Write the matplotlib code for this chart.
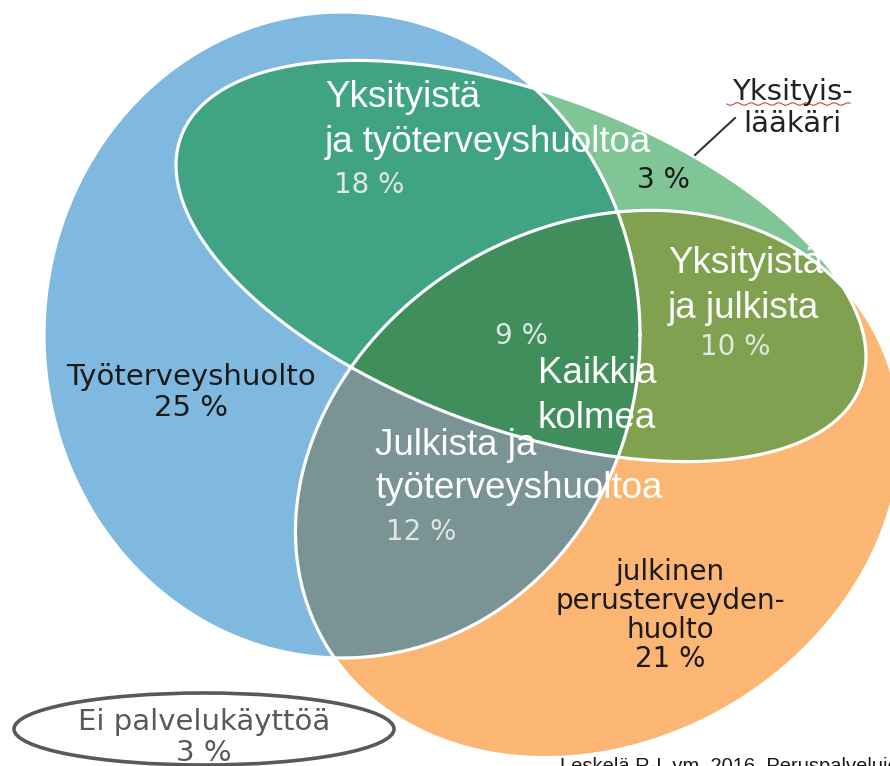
import numpy as np
import matplotlib
matplotlib.use('Agg')
import matplotlib.pyplot as plt
from matplotlib.patches import Ellipse

# palvelukäytön jakauma, % vastaajista
regions = ['Työterveyshuolto', 'Yksityistä ja työterveyshuoltoa', 'Yksityislääkäri',
           'Kaikkia kolmea', 'Yksityistä ja julkista', 'Julkista ja työterveyshuoltoa',
           'julkinen perusterveydenhuolto', 'Ei palvelukäyttöä']
shares = [25, 18, 3, 9, 10, 12, 21, 3]
source = 'Leskelä R-L ym. 2016. Peruspalvelujen käyttö'

C_BLUE = '#7fb9df'
C_ORANGE = '#fbb673'
C_LGREEN = '#80c595'
C_TEAL = '#3fa384'
C_OLIVE = '#7fa150'
C_GREY = '#7a9394'
C_DGREEN = '#3f8e5c'
C_PCT = '#dfe6e3'
C_DARK = '#1a1a1a'

WHITE_FONT = ['Liberation Sans', 'DejaVu Sans']
IMG_FONT = ['DejaVu Sans']


def ellipse_pts(cx, cy, a, b, ang, n=300):
    t = np.linspace(0, 2 * np.pi, n, endpoint=False)
    th = np.radians(ang)
    x = cx + a * np.cos(t) * np.cos(th) - b * np.sin(t) * np.sin(th)
    y = cy + a * np.cos(t) * np.sin(th) + b * np.sin(t) * np.cos(th)
    return np.column_stack([x, y])


def clip_poly(subject, clipper):
    # Sutherland-Hodgman, both convex
    out = [tuple(p) for p in subject]
    for i in range(len(clipper)):
        ax_, ay_ = clipper[i - 1]
        bx_, by_ = clipper[i]
        ex, ey = bx_ - ax_, by_ - ay_
        inp = out
        out = []
        if not inp:
            break

        def side(p):
            return ex * (p[1] - ay_) - ey * (p[0] - ax_)

        def inter(p, q):
            sp, sq = side(p), side(q)
            t = sp / (sp - sq)
            return (p[0] + t * (q[0] - p[0]), p[1] + t * (q[1] - p[1]))

        s = inp[-1]
        for e in inp:
            if side(e) >= 0:
                if side(s) < 0:
                    out.append(inter(s, e))
                out.append(e)
            elif side(s) >= 0:
                out.append(inter(s, e))
            s = e
    return np.array(out)


def lines(ax, x, ys, texts, **kw):
    for y, t in zip(ys, texts):
        ax.text(x, y, t, va='baseline', **kw)


fig = plt.figure(figsize=(8.9, 7.66), dpi=100)
ax = fig.add_axes([0, 0, 1, 1])
ax.set_xlim(0, 890)
ax.set_ylim(766, 0)
ax.axis('off')

blue = ellipse_pts(342, 335, 298, 323, 0)
priv = ellipse_pts(521, 261, 362, 168, 20)
publ = ellipse_pts(598, 484, 316, 258, -30)

bo = clip_poly(blue, publ)
bp = clip_poly(blue, priv)
op = clip_poly(publ, priv)
bop = clip_poly(bo, priv)

ax.fill(*blue.T, color=C_BLUE, lw=0)
ax.fill(*publ.T, color=C_ORANGE, lw=0)
ax.fill(*bo.T, color=C_GREY, lw=0)
ax.fill(*priv.T, color=C_LGREEN, lw=0)
ax.fill(*bp.T, color=C_TEAL, lw=0)
ax.fill(*op.T, color=C_OLIVE, lw=0)
ax.fill(*bop.T, color=C_DGREEN, lw=0)
for shape in (blue, publ, priv):
    closed = np.vstack([shape, shape[:1]])
    ax.plot(closed[:, 0], closed[:, 1], color='white', lw=2.3, solid_joinstyle='round')

pct = [f'{s} %' for s in shares]

# tekstit kuvasta
lines(ax, 191, [385, 416], ['Työterveyshuolto', pct[0]], ha='center', fontsize=21,
      color=C_DARK, family=IMG_FONT)
ax.text(369, 193, pct[1], ha='center', va='baseline', fontsize=20, color=C_PCT, family=IMG_FONT)
ax.text(663, 188, pct[2], ha='center', va='baseline', fontsize=20, color=C_DARK, family=IMG_FONT)
ax.text(521, 344, pct[3], ha='center', va='baseline', fontsize=20, color=C_PCT, family=IMG_FONT)
ax.text(735, 355, pct[4], ha='center', va='baseline', fontsize=20, color=C_PCT, family=IMG_FONT)
ax.text(421, 540, pct[5], ha='center', va='baseline', fontsize=20, color=C_PCT, family=IMG_FONT)
lines(ax, 670, [580, 609, 638, 667], ['julkinen', 'perusterveyden-', 'huolto', pct[6]],
      ha='center', fontsize=20, color=C_DARK, family=IMG_FONT)
lines(ax, 792, [100, 132], ['Yksityis-', 'lääkäri'], ha='center', fontsize=21,
      color='#222222', family=IMG_FONT)
ax.plot([695, 735], [155, 118], color='#333333', lw=1.5)
wx = np.linspace(727, 850, 60)
ax.plot(wx, 104 + 1.3 * np.sin((wx - 727) / 2.2), color='#e03a3a', lw=0.8)

# valkoiset otsikot
wkw = dict(ha='left', fontsize=26.5, color='white', family=WHITE_FONT)
lines(ax, 325, [107, 152], ['Yksityistä', 'ja työterveyshuoltoa'], **wkw)
lines(ax, 668, [273, 318], ['Yksityistä', 'ja julkista'], **wkw)
lines(ax, 538, [383, 428], ['Kaikkia', 'kolmea'], **wkw)
lines(ax, 375, [455, 498], ['Julkista ja', 'työterveyshuoltoa'], **wkw)

# ei palvelukäyttöä
ax.add_patch(Ellipse((204, 729), 380, 72, fill=False, edgecolor='#595959', lw=2.6))
lines(ax, 204, [730, 761], [regions[7], pct[7]], ha='center', fontsize=21,
      color='#595959', family=IMG_FONT)

ax.text(560, 772, source, ha='left', va='baseline', fontsize=14.5, color=C_DARK,
        family=WHITE_FONT)

fig.savefig('out.png', dpi=100)
